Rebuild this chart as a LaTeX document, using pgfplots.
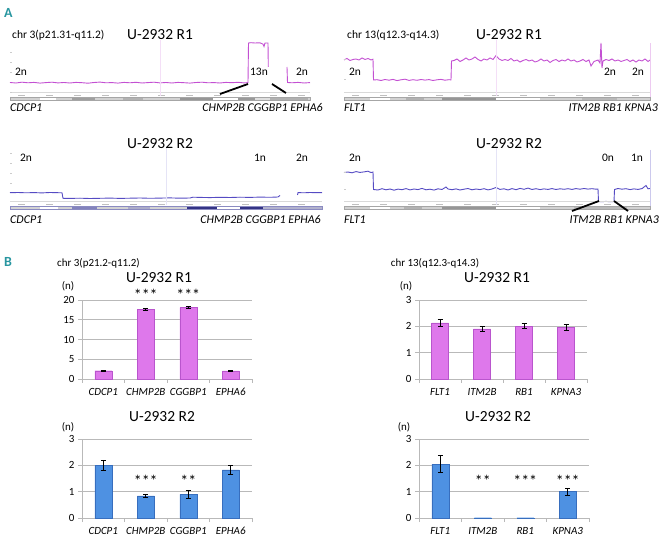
\documentclass[border=0pt]{standalone}
\usepackage{pgfplots}
\pgfplotsset{compat=1.18}
\usepackage{fontspec}
\setmainfont{Carlito}

\definecolor{lineone}{RGB}{195,80,210}
\definecolor{linetwo}{RGB}{85,75,195}
\definecolor{barone}{RGB}{222,120,235}
\definecolor{baroneedge}{RGB}{185,85,205}
\definecolor{bartwo}{RGB}{78,145,226}
\definecolor{bartwoedge}{RGB}{55,110,190}
\definecolor{panelcol}{RGB}{40,150,160}

\newcommand\ttl{\fontsize{15.5}{18}\selectfont}
\newcommand\sml{\fontsize{11.5}{13}\selectfont}
\newcommand\gene{\fontsize{12}{14}\selectfont\itshape}
\newcommand\bgene{\fontsize{11}{13}\selectfont\itshape}
\newcommand\starfont{\fontsize{16}{18}\selectfont}

\pgfplotsset{
  cnv/.style={scale only axis, anchor=south west, height=60bp,
    xmin=0, ymin=0, ymax=60, hide axis, clip=false},
  barax/.style={scale only axis, anchor=south west, width=170bp, height=79bp,
    xmin=-0.5, xmax=3.5, ymin=0, clip=false,
    axis x line*=bottom, axis y line*=left,
    axis line style={gray!55, line width=0.7bp},
    ymajorgrids, grid style={gray!55, line width=0.7bp},
    tick align=outside, major tick length=4bp,
    tick style={gray!55, line width=0.7bp},
    xtick={-0.5,0.5,1.5,2.5,3.5}, xticklabels={},
    extra x ticks={0,1,2,3},
    extra x tick style={major tick length=0pt, grid=none,
      xticklabel style={font=\bgene, yshift=-6bp}},
    yticklabel style={font=\fontsize{11}{13}\selectfont},
    /pgf/number format/assume math mode=true,
    ybar, bar width=17bp,
    error bars/error bar style={black, line width=1bp},
    error bars/error mark options={rotate=90, mark size=2.5bp, black, line width=1bp},
  },
}

\begin{document}
\begin{tikzpicture}
\path[use as bounding box] (0,0) rectangle (668bp,538bp);

% ---------- A: copy number tracks ----------
\begin{axis}[cnv, at={(10bp,438bp)}, width=300bp, xmax=300]
\addplot[lineone, line width=0.9bp] coordinates {
(0,17.5)(6,17.0)(12,17.8)(18,17.2)(24,17.6)(30,16.9)(36,17.4)(42,17.8)(48,17.1)
(54,17.5)(60,17.0)(66,17.6)(72,17.3)(78,16.8)(84,17.5)(90,17.9)(96,17.2)(102,17.4)
(108,16.9)(114,17.6)(120,17.2)(126,17.7)(132,17.0)(138,17.4)(144,17.8)(150,17.1)
(156,17.5)(162,17.0)(168,17.6)(174,17.3)(180,16.9)(186,17.5)(192,17.8)(198,17.2)
(204,17.4)(210,17.0)(216,17.6)(222,17.3)(228,17.7)(234,17.1)(238,17.4)
(238.5,57)(241,57.3)(245,57)(250,57.2)(253,55.8)(254,53.5)(255,57)(258,57)(258.3,33)};
\addplot[lineone, line width=0.9bp] coordinates {
(277,33)(277.5,17.5)(282,17.2)(288,17.6)(294,17.0)(300,17.4)};
\end{axis}

\begin{axis}[cnv, at={(344bp,438bp)}, width=306bp, xmax=306]
\addplot[lineone, line width=0.9bp] coordinates {
(0,40)(3,41.5)(6,39.5)(9,40.5)(12,41)(15,40)(18,42)(21,40.5)(24,41.5)(27,40)(29,40.8)
(29.5,20)(33,20.3)(37,19.5)(41,20.5)(45,19.8)(49,20.6)(53,19.4)(57,20.2)(61,20.8)
(65,19.6)(69,20.3)(73,19.7)(77,20.5)(81,19.9)(85,20.4)(89,19.5)(93,20.2)(97,20.6)
(101,19.8)(105,20.3)(107,20.1)(107.5,39)(110,39.5)(113,41)(116,38.5)(119,40)(122,42)
(125,40)(128,41)(131,43)(134,40.5)(137,39)(140,41)(143,40)(146,42)(149,40.5)
(152,44.5)(155,41)(158,39.5)(161,40.5)(164,39.5)(167,41.5)(170,39)(173,40)(176,38)
(179,39.5)(182,40.5)(185,39)(188,40)(191,38)(194,39)(197,41)(200,39)(203,40)
(206,37.5)(209,39.5)(212,40.5)(215,38.5)(218,40)(221,39)(224,41)(227,39)(230,40)
(233,38)(236,39)(239,40.5)(242,38.5)(245,40)(247,34)(250,38.5)(254,40)(256,37)
(257,57)(258,32)(259,39)(262,40.5)(265,39.5)(268,41)(271,39)(274,40)(277,38.5)
(280,39.5)(283,40.5)(286,38.5)(289,40)(292,38)(295,40)(298,39)(301,41)(304,38.5)(306,40)};
\end{axis}

\begin{axis}[cnv, at={(10bp,333bp)}, width=312bp, xmax=312]
\addplot[linetwo, line width=0.9bp] coordinates {
(0,12.3)(8,12.5)(16,12.2)(24,12.4)(32,12.1)(40,12.5)(48,12.3)(52,12.2)(53,6.7)
(60,6.6)(70,6.8)(80,6.5)(90,6.7)(100,6.9)(110,6.6)(120,6.8)(130,7.0)(140,6.7)
(150,6.9)(160,7.1)(170,6.8)(180,7.0)(183,7.8)(190,7.6)(200,7.4)(210,7.7)(220,7.5)
(230,7.8)(240,7.6)(250,7.9)(260,7.7)(268,8.0)(270,9.5)};
\addplot[linetwo, line width=0.9bp] coordinates {
(287.5,10)(288,12.4)(294,12.2)(300,12.5)(306,12.3)(312,12.4)};
\end{axis}

\begin{axis}[cnv, at={(344bp,333bp)}, width=306bp, xmax=306]
\addplot[linetwo, line width=0.9bp] coordinates {
(0,32.5)(4,33)(8,32.2)(12,33.4)(16,32.6)(20,33.1)(24,33.8)(27,32.4)(29,33)
(29.5,15.5)(34,15)(38,16.3)(42,15.2)(46,16)(50,14.8)(54,15.9)(58,15.3)(62,16.4)
(66,15.1)(70,16)(74,15.4)(78,16.6)(82,15.2)(86,15.8)(90,14.9)(94,16.2)(98,15.5)
(102,18)(104,16)(108,15.3)(112,16.1)(116,15)(120,15.8)(124,16.5)(128,15.2)(132,16)
(136,15.4)(140,16.3)(144,15.1)(148,16)(152,17.5)(156,15.6)(160,16.2)(164,15)
(168,16.4)(172,15.3)(176,16.6)(180,15.7)(184,16.9)(188,15.5)(192,16.3)(196,15.4)
(200,16.1)(204,15.6)(208,16.4)(212,15.5)(216,16.2)(220,15.7)(224,16.3)(228,15.6)
(232,16.4)(236,15.8)(240,16.5)(244,15.9)(248,16.3)(252,15.8)(254,16)(254.5,3.5)
(258,3.3)(262,3.6)(266,3.2)(270,3.5)(270.5,15.5)(274,16.5)(278,15.8)(282,16.3)
(286,15.4)(290,16.1)(294,15.6)(298,16.4)(302,19.5)(304,16.2)(306,16.5)};
\end{axis}

% ---------- B: qPCR bars ----------
\begin{axis}[barax, at={(82bp,159bp)}, ymax=20, ytick={0,5,10,15,20},
  extra x tick labels={CDCP1,CHMP2B,CGGBP1,EPHA6}]
\addplot[fill=barone, draw=baroneedge, error bars/.cd, y dir=both, y explicit]
  coordinates {(0,2.1)+-(0,0.12) (1,17.6)+-(0,0.15) (2,18.1)+-(0,0.15) (3,2.05)+-(0,0.2)};
\node[font=\starfont] at (axis cs:1,21.4) {***};
\node[font=\starfont] at (axis cs:2,21.4) {***};
\end{axis}

\begin{axis}[barax, at={(419bp,159bp)}, width=168bp, ymax=3, ytick={0,1,2,3},
  extra x tick labels={FLT1,ITM2B,RB1,KPNA3}]
\addplot[fill=barone, draw=baroneedge, error bars/.cd, y dir=both, y explicit]
  coordinates {(0,2.13)+-(0,0.14) (1,1.9)+-(0,0.1) (2,2.0)+-(0,0.09) (3,1.95)+-(0,0.12)};
\end{axis}

\begin{axis}[barax, at={(82bp,20bp)}, ymax=3, ytick={0,1,2,3},
  extra x tick labels={CDCP1,CHMP2B,CGGBP1,EPHA6}]
\addplot[fill=bartwo, draw=bartwoedge, error bars/.cd, y dir=both, y explicit]
  coordinates {(0,2.0)+-(0,0.19) (1,0.84)+-(0,0.06) (2,0.9)+-(0,0.15) (3,1.83)+-(0,0.16)};
\node[font=\starfont] at (axis cs:1,1.4) {***};
\node[font=\starfont] at (axis cs:2,1.4) {**};
\end{axis}

\begin{axis}[barax, at={(419bp,20bp)}, ymax=3, ytick={0,1,2,3},
  extra x tick labels={FLT1,ITM2B,RB1,KPNA3}]
\addplot[fill=bartwo, draw=bartwoedge, bar shift=0pt, error bars/.cd, y dir=both, y explicit]
  coordinates {(0,2.05)+-(0,0.34) (3,1.0)+-(0,0.13)};
\addplot[fill=bartwo, draw=bartwoedge, bar shift=0pt] coordinates {(1,0.01) (2,0.01)};
\node[font=\starfont] at (axis cs:1,1.4) {**};
\node[font=\starfont] at (axis cs:2,1.4) {***};
\node[font=\starfont] at (axis cs:3,1.4) {***};
\end{axis}

% ---------- decorations and text, pixel coordinates ----------
\begin{scope}[x=1bp, y=-1bp, shift={(0,538bp)}, every node/.style={inner sep=0pt}]
% ideogram bands: #1 left, #2 right, #3 top
\newcommand\band[3]{%
  \fill[gray!35] (#1,#3) rectangle (#2,#3+3.8);
  \draw[gray!50, line width=1bp, dash pattern=on 7bp off 21bp] (#1+8,#3-1.6) -- (#2,#3-1.6);
  \draw[gray!30, line width=0.4bp] (#1,#3-4.5) -- (#2,#3-4.5);}
\band{10}{310}{96.8}
\fill[white] (40,96.8) rectangle (56,100.6);
\fill[gray!75] (72,96.8) rectangle (95,100.6);
\fill[gray!60] (123,96.8) rectangle (143,100.6);
\fill[gray!82] (180,96.8) rectangle (213,100.6);
\fill[white] (213,96.8) rectangle (238,100.6);
\fill[gray!80] (238,96.8) rectangle (255,100.6);
\fill[gray!25] (255,96.8) rectangle (270,100.6);
\fill[gray!62] (270,96.8) rectangle (308,100.6);
\draw[gray!70, line width=0.4bp] (10,96.8) rectangle (310,100.6);
\band{344}{650}{96.8}
\fill[white] (370,96.8) rectangle (390,100.6);
\fill[gray!60] (406,96.8) rectangle (424,100.6);
\fill[gray!82] (442,96.8) rectangle (496,100.6);
\fill[white] (496,96.8) rectangle (540,100.6);
\fill[gray!55] (582,96.8) rectangle (617,100.6);
\draw[gray!70, line width=0.4bp] (344,96.8) rectangle (650,100.6);
\band{10}{322}{205.8}
\fill[white] (40,205.8) rectangle (58,209.6);
\fill[blue!30!gray!75] (72,205.8) rectangle (97,209.6);
\fill[blue!20!gray!55] (128,205.8) rectangle (150,209.6);
\fill[blue!40!black!80] (187,205.8) rectangle (217,209.6);
\fill[white] (217,205.8) rectangle (240,209.6);
\fill[blue!40!black!80] (240,205.8) rectangle (263,209.6);
\fill[blue!20!gray!50] (263,205.8) rectangle (322,209.6);
\draw[blue!30!gray!70, line width=0.4bp] (10,205.8) rectangle (322,209.6);
\band{344}{650}{205.8}
\fill[white] (370,205.8) rectangle (390,209.6);
\fill[gray!60] (404,205.8) rectangle (422,209.6);
\fill[gray!82] (442,205.8) rectangle (496,209.6);
\fill[white] (496,205.8) rectangle (540,209.6);
\fill[gray!55] (574,205.8) rectangle (627,209.6);
\draw[gray!70, line width=0.4bp] (344,205.8) rectangle (650,209.6);
% faint centromere/frame lines
\draw[lineone!18, line width=0.5bp] (160,40) -- (160,96);
\draw[lineone!18, line width=0.5bp] (496,40) -- (496,96);
\draw[linetwo!15, line width=0.5bp] (166,148) -- (166,205);
\draw[linetwo!15, line width=0.5bp] (496,148) -- (496,205);
\draw[lineone!30, line width=0.6bp] (650,43) -- (650,97);
\draw[linetwo!30, line width=0.6bp] (650,150) -- (650,206);
\foreach \yy in {52,62,72,92} \draw[gray!40, line width=0.6bp] (10,\yy) -- (12,\yy);
\foreach \yy in {59,79} \draw[gray!40, line width=0.6bp] (344,\yy) -- (346,\yy);
\foreach \yy in {153,163,173,183} \draw[gray!40, line width=0.6bp] (10,\yy) -- (12,\yy);
\foreach \yy in {172,189} \draw[gray!40, line width=0.6bp] (344,\yy) -- (346,\yy);
% connectors
\draw[black, line width=1.8bp] (220,94) -- (248,84);
\draw[black, line width=1.8bp] (272,84) -- (286,93);
\draw[black, line width=1.8bp] (572,211) -- (599,201);
\draw[black, line width=1.8bp] (614,201) -- (628,211);
% panel letters
\node[anchor=west, text=panelcol, font=\bfseries\fontsize{14}{16}\selectfont] at (4,12.5) {A};
\node[anchor=west, text=panelcol, font=\bfseries\fontsize{14}{16}\selectfont] at (4,262) {B};
% A text
\node[anchor=west] at (12,35) {\sml chr 3(p21.31-q11.2)};
\node at (160,35) {\ttl U-2932 R1};
\node[anchor=west] at (347,35) {\sml chr 13(q12.3-q14.3)};
\node at (509,35) {\ttl U-2932 R1};
\node at (160,144) {\ttl U-2932 R2};
\node at (509,144) {\ttl U-2932 R2};
\node at (21,72) {\sml 2n};
\node at (259,72) {\sml 13n};
\node at (302,72) {\sml 2n};
\node at (355,72) {\sml 2n};
\node at (610,72) {\sml 2n};
\node at (638,72) {\sml 2n};
\node at (26,158) {\sml 2n};
\node at (260,158) {\sml 1n};
\node at (302,158) {\sml 2n};
\node at (355,158) {\sml 2n};
\node at (608,158) {\sml 0n};
\node at (637,158) {\sml 1n};
\node[anchor=west] at (10,108) {\gene CDCP1};
\node[anchor=east] at (323,108) {\gene CHMP2B CGGBP1 EPHA6};
\node[anchor=west] at (344,108) {\gene FLT1};
\node[anchor=east] at (658,108) {\gene ITM2B RB1 KPNA3};
\node[anchor=west] at (10,220) {\gene CDCP1};
\node[anchor=east] at (321,220) {\gene CHMP2B CGGBP1 EPHA6};
\node[anchor=west] at (344,220) {\gene FLT1};
\node[anchor=east] at (659,220) {\gene ITM2B RB1 KPNA3};
% B text
\node at (98.5,263) {\fontsize{11}{13}\selectfont chr 3(p21.2-q11.2)};
\node at (435,263) {\fontsize{11}{13}\selectfont chr 13(q12.3-q14.3)};
\node at (159,278) {\ttl U-2932 R1};
\node at (497,278) {\ttl U-2932 R1};
\node at (162,417) {\ttl U-2932 R2};
\node at (498,417) {\ttl U-2932 R2};
\node at (68,286) {\fontsize{11}{13}\selectfont (n)};
\node at (406,286) {\fontsize{11}{13}\selectfont (n)};
\node at (68,427) {\fontsize{11}{13}\selectfont (n)};
\node at (404,427) {\fontsize{11}{13}\selectfont (n)};
\end{scope}
\end{tikzpicture}
\end{document}
